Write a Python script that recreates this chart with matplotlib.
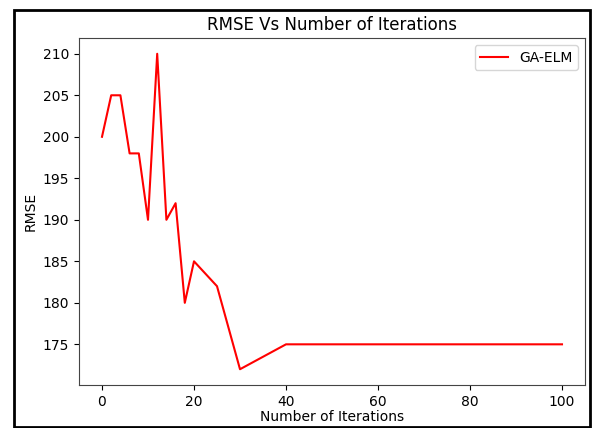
import matplotlib
matplotlib.use('Agg')
import matplotlib.pyplot as plt
from matplotlib.patches import Rectangle

# iterations and RMSE
iterations = [0, 2, 4, 6, 8, 10, 12, 14, 16, 18, 20, 25, 30, 40, 100]
rmse = [200, 205, 205, 198, 198, 190, 210, 190, 192, 180, 185, 182, 172, 175, 175]

fig = plt.figure(figsize=(5.92, 4.28), dpi=100)
ax = fig.add_axes([79 / 592, 1 - 385 / 428, (585 - 79) / 592, (385 - 38) / 428])

ax.plot(iterations, rmse, color='red', label='GA-ELM')
ax.set_title('RMSE Vs Number of Iterations', fontsize=12)
ax.set_xlabel('Number of Iterations', fontsize=10, labelpad=1)
ax.set_ylabel('RMSE', fontsize=10)
ax.tick_params(labelsize=10)
ax.set_xticks([0, 20, 40, 60, 80, 100])
ax.set_yticks([175, 180, 185, 190, 195, 200, 205, 210])
ax.legend(loc='upper right', fontsize=10)

for s in ax.spines.values():
    s.set_color('#444444')

# black frame around the whole picture
fig.patches.append(Rectangle((14 / 592, 1 - 427 / 428), (590 - 14) / 592, (427 - 10) / 428,
                             transform=fig.transFigure, fill=False,
                             edgecolor='black', linewidth=2))

fig.savefig('out.png', dpi=100)
